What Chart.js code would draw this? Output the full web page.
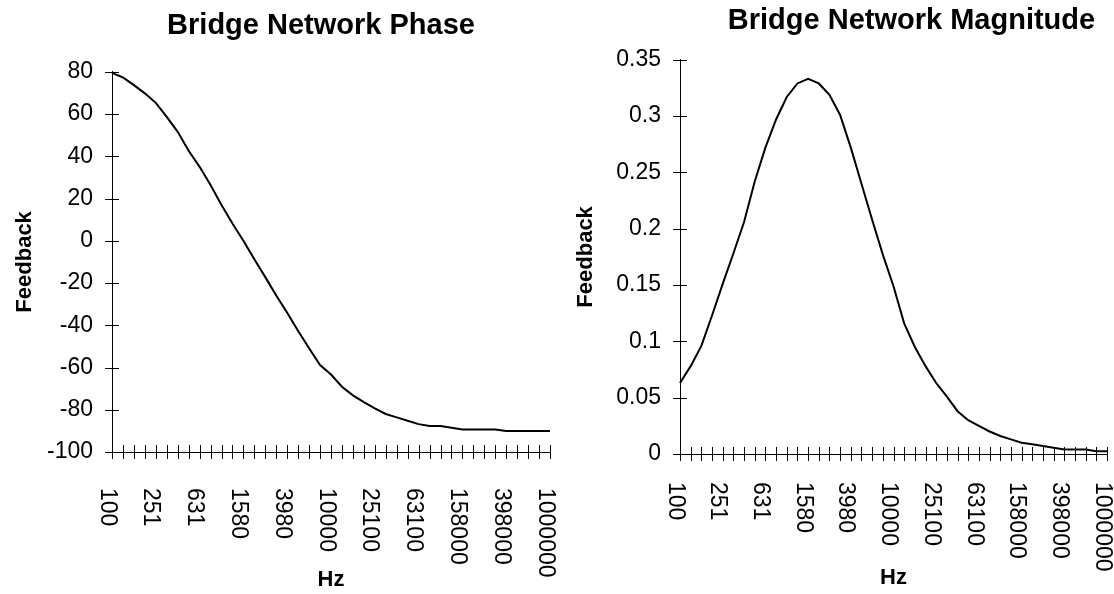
<!DOCTYPE html>
<html>
<head>
<meta charset="utf-8">
<title>Bridge Network</title>
<script src="https://cdn.jsdelivr.net/npm/chart.js@4.4.1/dist/chart.umd.min.js"></script>
<style>
  html, body { margin: 0; padding: 0; background: #fff; overflow: hidden; }
  #wrap { position: relative; width: 1114px; height: 594px; }
  canvas { position: absolute; top: 0; }
  #phaseChart { left: 0; }
  #magChart { left: 557px; }
</style>
</head>
<body>
<div id="wrap">
  <canvas id="phaseChart" width="557" height="594"></canvas>
  <canvas id="magChart" width="557" height="594"></canvas>
</div>
<script>
// frequency steps, 10 per decade
const freqs = [
  "100", "126", "158", "200", "251", "316", "398", "501", "631", "794",
  "1000", "1260", "1580", "2000", "2510", "3160", "3980", "5010", "6310", "7940",
  "10000", "12600", "15800", "20000", "25100", "31600", "39800", "50100", "63100", "79400",
  "100000", "126000", "158000", "200000", "251000", "316000", "398000", "501000", "631000", "794000",
  "1000000",
];

// phase in degrees
const phase = [
  79.5, 77.3, 73.7, 69.8, 65.3, 58.7, 51.6, 42.6, 35.0, 26.4,
  16.9, 8.2, 0.0, -8.7, -17.2, -25.9, -34.1, -42.7, -50.9, -58.8,
  -63.3, -69.1, -73.2, -76.4, -79.3, -82.0, -83.6, -85.2, -86.8, -87.7,
  -87.7, -88.5, -89.3, -89.3, -89.3, -89.3, -90, -90, -90, -90,
  -90,
];

// magnitude
const magnitude = [
  0.063, 0.078, 0.096, 0.123, 0.151, 0.178, 0.206, 0.242, 0.272, 0.297,
  0.317, 0.329, 0.333, 0.329, 0.319, 0.301, 0.272, 0.240, 0.208, 0.177,
  0.149, 0.116, 0.095, 0.078, 0.063, 0.051, 0.038, 0.030, 0.025, 0.020,
  0.016, 0.013, 0.010, 0.0086, 0.0071, 0.0056, 0.004, 0.004, 0.004, 0.0024,
  0.0024,
];

const phaseTicks = { min: -100, max: 80, step: 20 };
const magTicks = { min: 0, max: 0.35, step: 0.05 };

const FONT = '"Liberation Sans", Arial, sans-serif';
Chart.defaults.font.family = FONT;
Chart.defaults.color = "#000";

// old spreadsheet look: tick marks crossing the axes and x labels turned clockwise
const excelAxes = {
  id: "excelAxes",
  afterLayout(chart, args, opts) {
    if (opts.titleShift && chart.titleBlock) {
      chart.titleBlock.left += opts.titleShift;
      chart.titleBlock.right += opts.titleShift;
    }
  },
  afterDraw(chart, args, opts) {
    const ctx = chart.ctx;
    const x = chart.scales.x;
    const y = chart.scales.y;
    ctx.save();
    ctx.strokeStyle = "#000";
    ctx.lineWidth = 1;
    ctx.beginPath();
    x.ticks.forEach((t, i) => {
      const px = Math.round(x.getPixelForTick(i)) + 0.5;
      ctx.moveTo(px, x.top - 7);
      ctx.lineTo(px, x.top + 7);
    });
    y.ticks.forEach((t, i) => {
      const py = Math.round(y.getPixelForTick(i)) + 0.5;
      ctx.moveTo(y.right - 7, py);
      ctx.lineTo(y.right + 7, py);
    });
    ctx.stroke();

    ctx.fillStyle = "#000";
    ctx.font = "23px " + FONT;
    ctx.textAlign = "left";
    ctx.textBaseline = "middle";
    x.ticks.forEach((t, i) => {
      if (i % opts.every !== 0) return;
      ctx.save();
      ctx.translate(x.getPixelForTick(i) + opts.labelShift, x.top + opts.labelGap);
      ctx.rotate(Math.PI / 2);
      ctx.fillText(x.getLabelForValue(t.value), 0, 0);
      ctx.restore();
    });
    ctx.restore();
  },
};

function makeConfig(cfg) {
  return {
    type: "line",
    data: {
      labels: freqs,
      datasets: [
        {
          label: cfg.title,
          data: cfg.data,
          borderColor: "#000",
          borderWidth: 2,
          pointRadius: 0,
          tension: 0,
          fill: false,
        },
      ],
    },
    options: {
      responsive: false,
      animation: false,
      devicePixelRatio: 1,
      layout: { padding: { left: 0, right: 7, top: 0, bottom: 0 } },
      scales: {
        x: {
          type: "category",
          afterFit: (scale) => { scale.height = cfg.xHeight; },
          grid: { display: false, drawTicks: false },
          border: { display: true, color: "#000", width: 1 },
          ticks: { display: false, autoSkip: false },
          title: {
            display: true,
            text: "Hz",
            color: "#000",
            font: { size: 22, weight: "bold" },
            padding: { top: 0, bottom: cfg.hzBottom },
          },
        },
        y: {
          min: cfg.ticks.min,
          max: cfg.ticks.max,
          afterFit: (scale) => { scale.width = cfg.yWidth; },
          grid: { display: false, drawTicks: false },
          border: { display: true, color: "#000", width: 1 },
          ticks: {
            stepSize: cfg.ticks.step,
            padding: 19,
            color: "#000",
            font: { size: 23 },
            callback: (v) => String(Math.round(v * 100) / 100),
          },
          title: {
            display: true,
            text: "Feedback",
            color: "#000",
            font: { size: 22, weight: "bold" },
            padding: { top: cfg.feedbackTop, bottom: 0 },
          },
        },
      },
      plugins: {
        legend: { display: false },
        tooltip: { enabled: false },
        title: {
          display: true,
          text: cfg.title,
          color: "#000",
          fullSize: false,
          font: { size: 29, weight: "bold", lineHeight: 1.2 },
          padding: cfg.titlePadding,
        },
        excelAxes: {
          every: 4,
          labelShift: -5,
          labelGap: cfg.labelGap,
          titleShift: cfg.titleShift,
        },
      },
    },
    plugins: [excelAxes],
  };
}

new Chart(
  document.getElementById("phaseChart"),
  makeConfig({
    title: "Bridge Network Phase",
    data: phase,
    ticks: phaseTicks,
    yWidth: 112,
    xHeight: 142,
    titlePadding: { top: 9, bottom: 28 },
    titleShift: -10,
    labelGap: 36,
    hzBottom: 1,
    feedbackTop: 12,
  })
);

new Chart(
  document.getElementById("magChart"),
  makeConfig({
    title: "Bridge Network Magnitude",
    data: magnitude,
    ticks: magTicks,
    yWidth: 123,
    xHeight: 140,
    titlePadding: { top: 4, bottom: 21 },
    titleShift: 18,
    labelGap: 28,
    hzBottom: 3,
    feedbackTop: 16,
  })
);
</script>
</body>
</html>
